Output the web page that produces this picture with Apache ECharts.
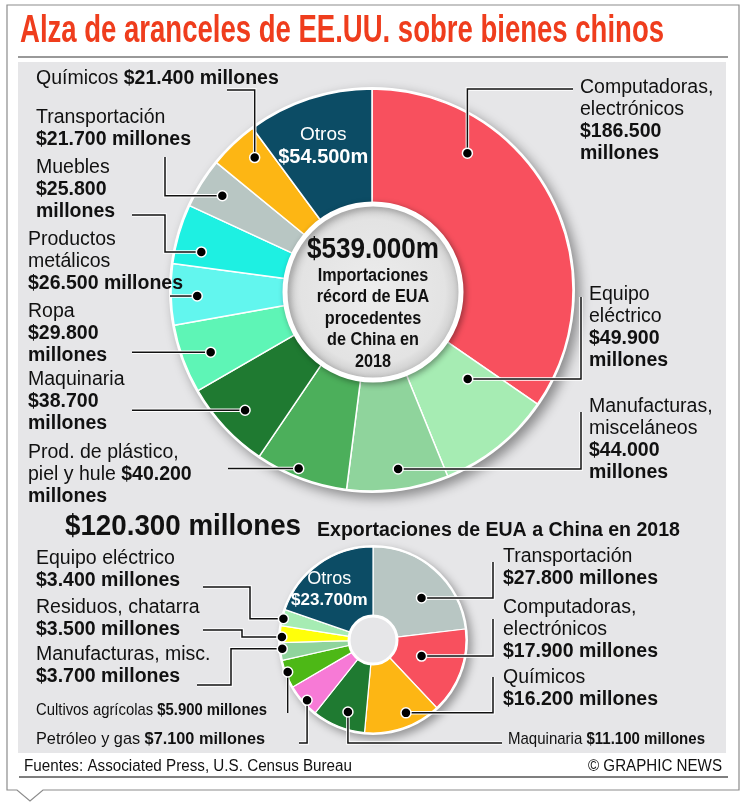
<!DOCTYPE html>
<html>
<head>
<meta charset="utf-8">
<script src="https://cdn.jsdelivr.net/npm/echarts@6/dist/echarts.min.js"></script>
<style>
    html, body { margin: 0; padding: 0; background: #fff; }
    #chart { width: 746px; height: 802px; }
</style>
</head>
<body>
<div id="chart"></div>
<script>
(function () {
    'use strict';

    // Importaciones de EUA procedentes de China 2018 (miles de millones), clockwise from 12 o'clock
    var importNames = ['Computadoras,\nelectrónicos', 'Equipo\neléctrico', 'Manufacturas,\nmisceláneos',
        'Prod. de plástico,\npiel y hule', 'Maquinaria', 'Ropa', 'Productos\nmetálicos', 'Muebles',
        'Transportación', 'Químicos', 'Otros'];
    var importValues = [186.5, 49.9, 44.0, 40.2, 38.7, 29.8, 26.5, 25.8, 21.7, 21.4, 54.5];
    var importTotal = 539.0;

    // Exportaciones de EUA a China 2018 (miles de millones), clockwise from 12 o'clock
    var exportNames = ['Transportación', 'Computadoras,\nelectrónicos', 'Químicos', 'Maquinaria',
        'Petróleo y gas', 'Cultivos agrícolas', 'Manufacturas, misc.', 'Residuos, chatarra',
        'Equipo eléctrico', 'Otros'];
    var exportValues = [27.8, 17.9, 16.2, 11.1, 7.1, 5.9, 3.7, 3.5, 3.4, 23.7];
    var exportTotal = 120.3;

    var titleText = 'Alza de aranceles de EE.UU. sobre bienes chinos';
    var importCaption = ['Importaciones', 'récord de EUA', 'procedentes', 'de China en', '2018'];
    var exportCaption = 'Exportaciones de EUA a China en 2018';
    var sourceText = 'Fuentes: Associated Press, U.S. Census Bureau';
    var creditText = '© GRAPHIC NEWS';

    var importColors = ['#f8505e', '#a6ecb3', '#8fd49c', '#4caf5b', '#1f7a31', '#5ef5b6',
        '#62f6ee', '#1ef0e2', '#b8c6c3', '#fdb614', '#0c4c65'];
    var exportColors = ['#b8c6c3', '#f8505e', '#fdb614', '#1f7a31', '#f77ad6', '#4db816',
        '#8fd49c', '#ffff0a', '#a6ecb3', '#0c4c65'];

    // label placement: x, first line centre y, text mode, dot position inside the slice, leader route
    // mode 0: value on the name line, 1: value + millones on new line,
    //      2: value line then millones line, 3: value on name line, millones below
    var importLabels = [
        {x: 580, y: 88, mode: 2, f: 0.28, rf: 0.83, route: [['v', 89], ['h', 573]]},
        {x: 589, y: 295, mode: 2, f: 0.25, rf: 0.65, route: [['h', 581], ['v', 297]]},
        {x: 589, y: 407, mode: 2, f: 0.47, rf: 0.90, route: [['h', 581], ['v', 412]]},
        {x: 28, y: 453, mode: 3, f: 0.56, rf: 0.96, route: [['h', 228]]},
        {x: 28, y: 380, mode: 2, f: 0.48, rf: 0.87, route: [['h', 132]]},
        {x: 28, y: 312, mode: 2, f: 0.45, rf: 0.86, route: [['h', 132]]},
        {x: 28, y: 240, mode: 1, f: 0.46, rf: 0.87, route: [['h', 170]]},
        {x: 36, y: 168, mode: 2, f: 0.29, rf: 0.87, route: [['h', 165], ['v', 215], ['h', 132]]},
        {x: 36, y: 118, mode: 1, f: 0.51, rf: 0.88, route: [['h', 165], ['v', 157]]},
        {x: 36, y: 79, mode: 0, f: 0.64, rf: 0.88, route: [['v', 90], ['h', 227]]},
        null
    ];
    var exportLabels = [
        {x: 503, y: 557, mode: 1, f: 0.59, rf: 0.69, route: [['h', 493], ['v', 562]]},
        {x: 503, y: 608, mode: 1, f: 0.47, rf: 0.55, route: [['h', 493], ['v', 619]]},
        {x: 503, y: 678, mode: 1, f: 0.39, rf: 0.86, route: [['h', 493], ['v', 677]]},
        {x: 508, y: 739, mode: 0, small: 197, f: 0.42, rf: 0.82, route: [['v', 743], ['h', 502]]},
        {x: 36, y: 739, mode: 0, small: 229, f: 0.43, rf: 0.96, route: [['v', 743], ['h', 299]]},
        {x: 36, y: 710, mode: 0, small: 231, f: 0.55, rf: 0.98, route: [['v', 713]]},
        {x: 36, y: 655, mode: 1, f: 0.64, rf: 0.98, route: [['h', 231], ['v', 685], ['h', 197]]},
        {x: 36, y: 608, mode: 1, f: 0.33, rf: 0.98, route: [['h', 242], ['v', 630], ['h', 203]]},
        {x: 36, y: 559, mode: 1, f: 0.44, rf: 0.99, route: [['h', 250], ['v', 587], ['h', 203]]},
        null
    ];

    var FONT = 'Liberation Sans, Arial, Helvetica, sans-serif';
    var BIG_CENTER = [372, 290], BIG_R = [86, 201];
    var SMALL_CENTER = [373, 640], SMALL_R = [24, 93];

    var measureCtx = document.createElement('canvas').getContext('2d');
    function textWidth(str, size, weight) {
        measureCtx.font = (weight || 'normal') + ' ' + size + 'px ' + FONT;
        return measureCtx.measureText(str).width;
    }

    function money(v) {
        return '$' + String(Math.round(v * 1000)).replace(/\B(?=(\d{3})+(?!\d))/g, '.');
    }

    function labelText(name, value, mode) {
        var parts = name.split('\n');
        var m = money(value);
        var lines = parts.map(function (p) { return '{n|' + p + '}'; });
        var last = lines.length - 1;
        if (mode === 0) {
            lines[last] = '{n|' + parts[last] + ' }{b|' + m + ' millones}';
        } else if (mode === 1) {
            lines.push('{b|' + m + ' millones}');
        } else if (mode === 2) {
            lines.push('{b|' + m + '}');
            lines.push('{b|millones}');
        } else {
            lines[last] = '{n|' + parts[last] + ' }{b|' + m + '}';
            lines.push('{b|millones}');
        }
        return lines.join('\n');
    }

    function richStyle(size, lh) {
        return {
            n: {fontSize: size, fontFamily: FONT, fill: '#111', lineHeight: lh},
            b: {fontSize: size, fontFamily: FONT, fontWeight: 'bold', fill: '#111', lineHeight: lh}
        };
    }

    function otrosLabel(name, value, big) {
        return {
            show: true,
            position: 'inside',
            formatter: '{o|' + name + '}\n{v|' + money(value) + 'm}',
            offset: big ? [-3, -5] : [-8, 0],
            rich: {
                o: {color: '#fff', fontSize: big ? 19 : 18, fontFamily: FONT, lineHeight: big ? 23 : 21},
                v: {color: '#fff', fontSize: big ? 20 : 17, fontWeight: 'bold', fontFamily: FONT, lineHeight: big ? 23 : 21}
            }
        };
    }

    function pieData(names, values, colors, big) {
        return names.map(function (n, i) {
            var item = {name: n, value: values[i], itemStyle: {color: colors[i]}};
            if (n === 'Otros') {
                item.label = otrosLabel(n, values[i], big);
            }
            return item;
        });
    }

    var chart = echarts.init(document.getElementById('chart'), null, {renderer: 'canvas'});

    chart.setOption({
        backgroundColor: '#fff',
        animation: false,
        series: [
            {
                type: 'pie',
                center: BIG_CENTER,
                radius: BIG_R,
                startAngle: 90,
                clockwise: true,
                avoidLabelOverlap: false,
                silent: true,
                z: 5,
                itemStyle: {borderColor: '#fff', borderWidth: 1.5},
                label: {show: false},
                labelLine: {show: false},
                data: pieData(importNames, importValues, importColors, true)
            },
            {
                type: 'pie',
                center: SMALL_CENTER,
                radius: SMALL_R,
                startAngle: 90,
                clockwise: true,
                avoidLabelOverlap: false,
                silent: true,
                z: 5,
                itemStyle: {borderColor: '#fff', borderWidth: 1.2},
                label: {show: false},
                labelLine: {show: false},
                data: pieData(exportNames, exportValues, exportColors, false)
            }
        ]
    });

    // slice geometry from the library's own pie layout
    function sectorOf(seriesIndex, dataIndex, values, center, radius) {
        try {
            var l = chart.getModel().getSeriesByIndex(seriesIndex).getData().getItemLayout(dataIndex);
            if (l && l.r) {
                return l;
            }
        } catch (e) {}
        var sum = values.reduce(function (a, b) { return a + b; }, 0);
        var a0 = -Math.PI / 2;
        for (var k = 0; k < dataIndex; k++) {
            a0 += values[k] / sum * Math.PI * 2;
        }
        return {cx: center[0], cy: center[1], r: radius[1], r0: radius[0],
            startAngle: a0, endAngle: a0 + values[dataIndex] / sum * Math.PI * 2};
    }

    function routePoints(start, route) {
        var pts = [start];
        var cur = start;
        route.forEach(function (s) {
            cur = s[0] === 'h' ? [s[1], cur[1]] : [cur[0], s[1]];
            pts.push(cur);
        });
        return pts;
    }

    var elements = [];

    // frame with pointer, panel
    elements.push({
        type: 'polygon', z: 0,
        shape: {points: [[7, 5], [739, 5], [739, 790], [43, 790], [30, 801], [17, 790], [7, 790]]},
        style: {fill: '#fff', stroke: '#8c8c8c', lineWidth: 1.2}
    });
    elements.push({type: 'rect', z: 0, shape: {x: 18, y: 62, width: 708, height: 691}, style: {fill: '#e6e6e8'}});
    elements.push({type: 'line', z: 0, shape: {x1: 18, y1: 57, x2: 728, y2: 57}, style: {stroke: '#777', lineWidth: 1.5}});
    elements.push({type: 'line', z: 0, shape: {x1: 19, y1: 777, x2: 728, y2: 777}, style: {stroke: '#555', lineWidth: 1.5}});

    // title
    elements.push({
        type: 'text', z: 30, x: 20, y: 32,
        scaleX: 644 / textWidth(titleText, 38, 'bold'),
        style: {text: titleText, fontSize: 38, fontWeight: 'bold', fontFamily: FONT, fill: '#ef3d1d', verticalAlign: 'middle'}
    });

    // donut shadows / white rims
    elements.push({
        type: 'circle', z: 1, shape: {cx: BIG_CENTER[0], cy: BIG_CENTER[1], r: BIG_R[1] + 2},
        style: {fill: '#fff', shadowBlur: 12, shadowOffsetX: 5, shadowOffsetY: 5, shadowColor: 'rgba(0,0,0,0.4)'}
    });
    elements.push({
        type: 'circle', z: 1, shape: {cx: SMALL_CENTER[0], cy: SMALL_CENTER[1], r: SMALL_R[1] + 2},
        style: {fill: '#fff', shadowBlur: 8, shadowOffsetX: 4, shadowOffsetY: 4, shadowColor: 'rgba(0,0,0,0.35)'}
    });

    // centre disc of the imports donut
    elements.push({
        type: 'circle', z: 10, shape: {cx: BIG_CENTER[0] + 1, cy: BIG_CENTER[1] + 2, r: 88},
        style: {
            fill: new echarts.graphic.RadialGradient(0.5, 0.5, 0.5, [
                {offset: 0, color: '#ededed'}, {offset: 0.8, color: '#e3e3e3'}, {offset: 1, color: '#c6c6c6'}
            ]),
            stroke: '#fff', lineWidth: 5,
            shadowBlur: 6, shadowOffsetX: 2, shadowOffsetY: 2, shadowColor: 'rgba(0,0,0,0.3)'
        }
    });
    var capText = '{t|' + money(importTotal) + 'm}\n' + importCaption.map(function (c) { return '{s|' + c + '}'; }).join('\n');
    elements.push({
        type: 'text', z: 30, x: BIG_CENTER[0] + 1, y: 234, scaleX: 0.9,
        style: {
            text: capText, align: 'center', verticalAlign: 'top',
            rich: {
                t: {fontSize: 29, fontWeight: 'bold', fontFamily: FONT, fill: '#111', lineHeight: 31, align: 'center'},
                s: {fontSize: 18, fontWeight: 'bold', fontFamily: FONT, fill: '#111', lineHeight: 21.5, align: 'center'}
            }
        }
    });

    // hole of the exports donut
    elements.push({
        type: 'circle', z: 10, shape: {cx: SMALL_CENTER[0], cy: SMALL_CENTER[1], r: 24},
        style: {fill: '#e6e6e8', stroke: '#fff', lineWidth: 3}
    });

    // exports heading
    var headA = money(exportTotal) + ' millones';
    elements.push({
        type: 'text', z: 30, x: 65, y: 527,
        scaleX: 236 / textWidth(headA, 30, 'bold'),
        style: {text: headA, fontSize: 30, fontWeight: 'bold', fontFamily: FONT, fill: '#111', verticalAlign: 'middle'}
    });
    elements.push({
        type: 'text', z: 30, x: 317, y: 530,
        scaleX: 363 / textWidth(exportCaption, 20, 'bold'),
        style: {text: exportCaption, fontSize: 20, fontWeight: 'bold', fontFamily: FONT, fill: '#111', verticalAlign: 'middle'}
    });

    // footer
    elements.push({
        type: 'text', z: 30, x: 24, y: 767,
        scaleX: 328 / textWidth(sourceText, 16),
        style: {text: sourceText, fontSize: 16, fontFamily: FONT, fill: '#111', verticalAlign: 'middle'}
    });
    elements.push({
        type: 'text', z: 30, x: 722, y: 767,
        scaleX: 134 / textWidth(creditText, 16),
        style: {text: creditText, fontSize: 16, fontFamily: FONT, fill: '#111', align: 'right', verticalAlign: 'middle'}
    });

    // labels, leader lines and dots
    function addLabels(seriesIndex, names, values, labels, center, radius) {
        labels.forEach(function (lb, i) {
            if (!lb) {
                return;
            }
            var size = lb.small ? 17 : 19.5;
            var lh = 22;
            var text = labelText(names[i], values[i], lb.mode);
            var scale = 1;
            if (lb.small) {
                var w = textWidth(names[i] + ' ', size) + textWidth(money(values[i]) + ' millones', size, 'bold');
                scale = lb.small / w;
            }
            elements.push({
                type: 'text', z: 30, x: lb.x, y: lb.y - lh / 2, scaleX: scale,
                style: {text: text, verticalAlign: 'top', rich: richStyle(size, lh)}
            });

            var s = sectorOf(seriesIndex, i, values, center, radius);
            var a = s.startAngle + (s.endAngle - s.startAngle) * lb.f;
            var rr = s.r * lb.rf;
            var dot = [s.cx + rr * Math.cos(a), s.cy + rr * Math.sin(a)];
            var pts = routePoints(dot, lb.route);
            elements.push({type: 'polyline', z: 20, shape: {points: pts}, style: {stroke: '#fff', lineWidth: 3.5}});
            elements.push({type: 'polyline', z: 21, shape: {points: pts}, style: {stroke: '#111', lineWidth: 1.5}});
            elements.push({
                type: 'circle', z: 22, shape: {cx: dot[0], cy: dot[1], r: 5},
                style: {fill: '#000', stroke: '#fff', lineWidth: 1.5}
            });
        });
    }

    addLabels(0, importNames, importValues, importLabels, BIG_CENTER, BIG_R);
    addLabels(1, exportNames, exportValues, exportLabels, SMALL_CENTER, SMALL_R);

    chart.setOption({graphic: {elements: elements}});
})();
</script>
</body>
</html>
